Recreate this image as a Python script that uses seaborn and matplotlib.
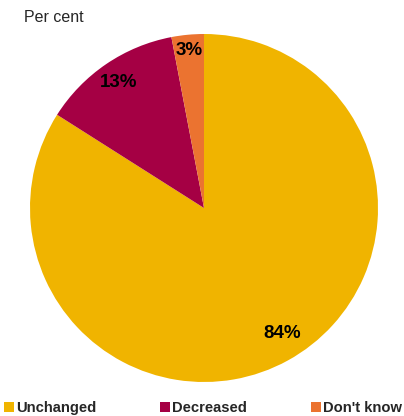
import matplotlib.pyplot as plt
import seaborn as sns
from matplotlib.lines import Line2D
import numpy as np

# --- Data ---
categories = ["Unchanged", "Decreased", "Don't know"]
shares = [84, 13, 3]
colors = ["#F0B400", "#A50044", "#EB7330"]

sns.set_theme(style="white")
plt.rcParams['font.family'] = ['Liberation Sans', 'DejaVu Sans']

fig = plt.figure(figsize=(4.04, 4.16), dpi=100)
# pie centre ~ (204, 208) px, radius ~174 px
ax = fig.add_axes([30 / 404, 1 - 382 / 416, 348 / 404, 348 / 416])

wedges, texts, autotexts = ax.pie(
    shares, colors=colors, startangle=90, counterclock=False,
    autopct=lambda p: f"{p:.0f}%", pctdistance=0.85,
    wedgeprops=dict(linewidth=0),
    textprops=dict(fontsize=13.5, fontweight="bold", color="black"),
)
# nudge labels to different radii like the original
for w, t, r, da in zip(wedges, autotexts, [0.85, 0.87, 0.91], [3, 0, 0]):
    ang = np.deg2rad((w.theta1 + w.theta2) / 2 + da)
    t.set_position((r * np.cos(ang), r * np.sin(ang)))
ax.set_xlim(-1, 1)
ax.set_ylim(-1, 1)
ax.set_aspect("equal")

fig.text(24 / 404, 1 - 18 / 416, "Per cent", fontsize=11.5, va="center", ha="left")

handles = [Line2D([], [], marker="s", linestyle="", markersize=7.5,
                  markerfacecolor=c, markeredgewidth=0) for c in colors]
leg = fig.legend(handles, categories, loc="center left", ncol=3,
                 bbox_to_anchor=(0.0, 1 - 408 / 416), frameon=False,
                 prop=dict(size=10.6, weight="bold"), handlelength=0.7,
                 handletextpad=0.15, columnspacing=4.3, borderpad=0,
                 borderaxespad=0.25)

fig.savefig("out.png", dpi=100)
